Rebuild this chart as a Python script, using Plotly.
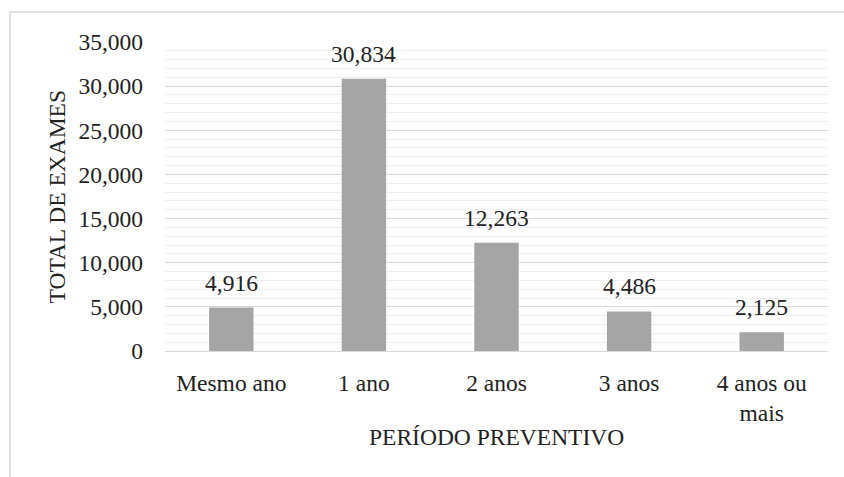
import plotly.graph_objects as go

categories = ["Mesmo ano", "1 ano", "2 anos", "3 anos", "4 anos ou<br>mais"]
values = [4916, 30834, 12263, 4486, 2125]
value_labels = ["4,916", "30,834", "12,263", "4,486", "2,125"]
y_tickvals = [0, 5000, 10000, 15000, 20000, 25000, 30000, 35000]
y_ticktext = ["0", "5,000", "10,000", "15,000", "20,000", "25,000", "30,000", "35,000"]

FONT = "Liberation Serif, Times New Roman, serif"
FS = 23.5
TXT = "#222222"
W, H = 844, 477
L, R, T, B = 165, 16, 42, 126
pw, ph = W - L - R, H - T - B

def px_x(x):
    return (x - L) / pw

def px_y(y):
    return (H - B - y) / ph

fig = go.Figure(go.Bar(
    x=categories, y=values,
    marker=dict(color="#a5a5a5", line=dict(width=0)),
    hoverinfo="x+y",
))

annotations = [
    dict(x=c, y=v, text=t, xref="x", yref="y", showarrow=False,
         xanchor="center", yanchor="middle", yshift=25,
         font=dict(family=FONT, size=FS, color=TXT))
    for c, v, t in zip(categories, values, value_labels)
]
annotations += [
    dict(text="TOTAL DE EXAMES", xref="paper", yref="paper",
         x=px_x(56), y=0.5, textangle=-90, showarrow=False,
         xanchor="center", yanchor="middle", font=dict(size=FS)),
    dict(text="PERÍODO PREVENTIVO", xref="paper", yref="paper",
         x=0.5, y=px_y(437), showarrow=False,
         xanchor="center", yanchor="middle", font=dict(size=FS)),
]

fig.update_layout(
    width=W, height=H,
    margin=dict(l=L, r=R, t=T, b=B),
    paper_bgcolor="white", plot_bgcolor="white",
    bargap=0.665, showlegend=False,
    font=dict(family=FONT, size=FS, color=TXT),
    xaxis=dict(showline=False, showgrid=False, ticks="", tickfont=dict(size=FS),
               ticklabelstandoff=15),
    yaxis=dict(range=[0, 35000], tickvals=y_tickvals, ticktext=y_ticktext,
               showgrid=True, gridcolor="#d9d9d9", gridwidth=1.3,
               zeroline=True, zerolinecolor="#d9d9d9", zerolinewidth=1.3,
               showline=False, ticks="", tickfont=dict(size=FS),
               ticklabelstandoff=21,
               minor=dict(dtick=1000, showgrid=True, gridcolor="#efefef", gridwidth=1)),
    annotations=annotations,
    shapes=[
        dict(type="rect", xref="paper", yref="paper",
             x0=px_x(10), x1=px_x(850), y0=px_y(485), y1=px_y(12),
             line=dict(color="#d9d9d9", width=1.5), fillcolor="rgba(0,0,0,0)", layer="below"),
    ],
)

fig.write_html("out.html")
